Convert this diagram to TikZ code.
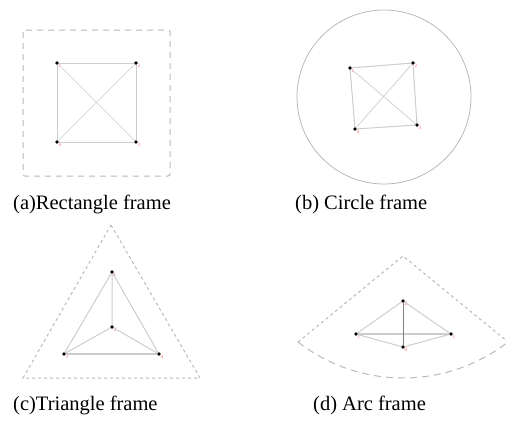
\documentclass[tikz,border=0pt]{standalone}
\usepackage{fontspec}
\setmainfont{Liberation Serif}
\usetikzlibrary{calc}
\definecolor{lgray}{RGB}{205,205,205}
\definecolor{fgray}{RGB}{185,185,185}

\begin{document}
\begin{tikzpicture}[x=1pt,y=-1pt,
  vtx/.style={circle,fill=black,inner sep=0pt,minimum size=3.6pt,
  label={[text=red!60,font=\fontsize{5}{5}\selectfont,inner sep=0pt]below right:#1}},
  edge/.style={draw=lgray,line width=1pt},
  frame/.style={draw=fgray,line width=1pt},
  caption/.style={anchor=base west,inner sep=0pt,font=\fontsize{20.5}{24}\selectfont},
]
\useasboundingbox (0,0) rectangle (507,421);

% (a) rectangle
\draw[frame,dash pattern=on 6pt off 5pt,rounded corners=2pt] (23,30) rectangle (170,176);
\node[vtx=1] (a1) at (57,63) {};
\node[vtx=2] (a2) at (136,63) {};
\node[vtx=3] (a3) at (136,142) {};
\node[vtx=4] (a4) at (57,142) {};
\draw[edge] (a1) -- (a2) -- (a3) -- (a4) -- (a1);
\draw[edge,line width=0.7pt] (a1) -- (a3) (a2) -- (a4);
\node[caption] (capa) at (13,209) {(a)Rectangle frame};

% (b) circle
\draw[frame,line width=0.8pt] (384,97) circle (87);
\node[vtx=1] (b1) at (350,68) {};
\node[vtx=2] (b2) at (413,63) {};
\node[vtx=3] (b3) at (417,125) {};
\node[vtx=4] (b4) at (355,129) {};
\draw[edge] (b1) -- (b2) -- (b3) -- (b4) -- (b1);
\draw[edge,line width=0.7pt] (b1) -- (b3) (b2) -- (b4);
\node[caption] (capb) at (295,209) {(b) Circle frame};

% (c) triangle
\draw[frame,dash pattern=on 3pt off 3pt] (111,225) -- (200,378) -- (23,378) -- cycle;
\node[vtx=1] (c1) at (112,272) {};
\node[vtx=2] (c2) at (112,327) {};
\node[vtx=3] (c3) at (64,354) {};
\node[vtx=4] (c4) at (159,354) {};
\draw[edge] (c1) -- (c2) (c1) -- (c3) (c1) -- (c4) (c2) -- (c3) (c2) -- (c4);
\draw[edge,line width=1.5pt] (c3) -- (c4);
\node[caption] (capc) at (13,410) {(c)Triangle frame};

% (d) arc
\coordinate (apex) at (403,256);
\coordinate (arcl) at (298,342);
\coordinate (arcr) at (508,342);
\draw[frame,dash pattern=on 3pt off 3pt] (arcl) -- (apex) -- (arcr);
\draw[frame,dash pattern=on 7pt off 5pt] plot[domain=127.9:52.1,samples=50,smooth]
  ({403+171*cos(\x)},{207+171*sin(\x)});
\node[vtx=2] (d1) at (403,301) {};
\node[vtx=1] (d2) at (356,334) {};
\node[vtx=1] (d3) at (451,334) {};
\node[vtx=0] (d4) at (403,347) {};
\draw[edge] (d1) -- (d2) (d1) -- (d3) (d2) -- (d4) (d3) -- (d4);
\draw[edge,line width=1.5pt] (d2) -- (d3);
\draw[gray,line width=0.8pt] (d1) -- (d4);
\node[caption] (capd) at (313,410) {(d) Arc frame};
\end{tikzpicture}
\end{document}
